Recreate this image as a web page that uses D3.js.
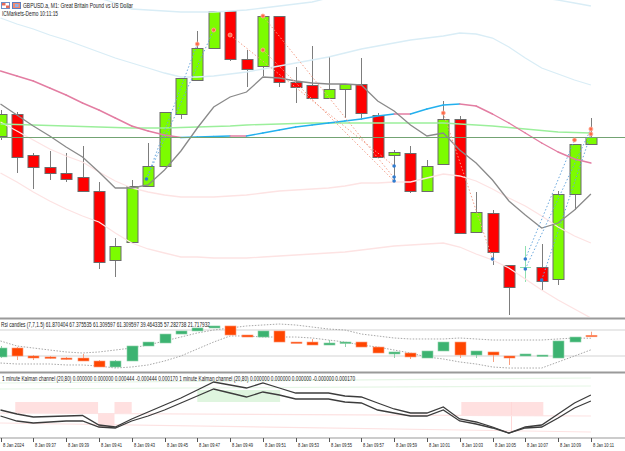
<!DOCTYPE html>
<html>
<head>
<meta charset="utf-8">
<script src="https://cdn.jsdelivr.net/npm/d3@7"></script>
<style>
body { margin: 0; background: #fff; }
svg { display: block; font-family: "Liberation Sans", Arial, sans-serif; }
</style>
</head>
<body>
<svg id="chart" width="625" height="451"></svg>
<script>
// bar times (M1)
var times = ["09:35","09:36","09:37","09:38","09:39","09:40","09:41","09:42","09:43","09:44",
  "09:45","09:46","09:47","09:48","09:49","09:50","09:51","09:52","09:53","09:54",
  "09:55","09:56","09:57","09:58","09:59","10:00","10:01","10:02","10:03","10:04",
  "10:05","10:06","10:07","10:08","10:09","10:10","10:11"];

var open  = [1.27064,1.27086,1.27045,1.27033,1.27027,1.27023,1.27009,1.26940,1.26958,1.27014,
  1.27034,1.27086,1.27120,1.27152,1.27189,1.27141,1.27134,1.27184,1.27118,1.27115,
  1.27102,1.27111,1.27116,1.27085,1.27045,1.27047,1.27009,1.27036,1.27081,1.26968,
  1.26987,1.26935,1.26933,1.26933,1.26921,1.27006,1.27056];
var high  = [1.27090,1.27088,1.27047,1.27049,1.27047,1.27054,1.27018,1.26962,1.27020,1.27057,
  1.27088,1.27122,1.27169,1.27189,1.27189,1.27150,1.27184,1.27184,1.27133,1.27154,
  1.27143,1.27116,1.27142,1.27087,1.27050,1.27054,1.27040,1.27099,1.27084,1.27008,
  1.26990,1.26935,1.26954,1.26956,1.27009,1.27056,1.27082];
var low   = [1.27060,1.27027,1.27011,1.27020,1.27018,1.27009,1.26931,1.26923,1.26958,1.27014,
  1.27034,1.27081,1.27120,1.27152,1.27139,1.27113,1.27124,1.27113,1.27097,1.27102,
  1.27102,1.27082,1.27082,1.27043,1.27018,1.27007,1.27009,1.27036,1.26967,1.26968,
  1.26935,1.26885,1.26918,1.26910,1.26915,1.26990,1.27056];
var close = [1.27086,1.27043,1.27033,1.27027,1.27021,1.27009,1.26938,1.26954,1.27014,1.27034,
  1.27088,1.27122,1.27152,1.27189,1.27141,1.27131,1.27184,1.27118,1.27113,1.27102,
  1.27111,1.27116,1.27087,1.27043,1.27048,1.27009,1.27034,1.27081,1.26967,1.26988,
  1.26948,1.26913,1.26933,1.26919,1.27006,1.27056,1.27063];

var priceLine = 1.27063;

// moving averages and channel bands
var maFast = [1.27096,1.27085,1.27074,1.27064,1.27053,1.27043,1.27028,1.27012,1.27012,1.27015,
  1.27030,1.27049,1.27072,1.27093,1.27103,1.27108,1.27123,1.27122,1.27119,1.27117,
  1.27116,1.27116,1.27115,1.27099,1.27089,1.27075,1.27064,1.27067,1.27050,1.27037,
  1.27020,1.26999,1.26985,1.26972,1.26977,1.26990,1.27006];
var maMid = [1.27129,1.27124,1.27119,1.27112,1.27105,1.27097,1.27090,1.27082,1.27074,1.27069,
  1.27065,1.270625,1.27063,1.270635,1.27064,1.27064,1.27067,1.27070,1.27073,1.27075,
  1.27077,1.27079,1.27081,1.27084,1.27086,1.27086,1.27091,1.27095,1.27096,1.27094,
  1.27086,1.27077,1.27067,1.27057,1.27048,1.27041,1.27037];
var maSlow = [1.27076,1.270755,1.27075,1.270745,1.27074,1.270735,1.27073,1.270725,1.27072,1.27072,
  1.27072,1.270725,1.27073,1.270735,1.27074,1.27075,1.270755,1.27076,1.270765,1.27077,
  1.27077,1.27077,1.27077,1.27077,1.27077,1.27077,1.27077,1.27077,1.27076,1.27075,
  1.27074,1.270725,1.27071,1.270695,1.27068,1.270675,1.27067];
var bandUp1 = [1.27182,1.27176,1.27171,1.27165,1.27160,1.27154,1.27148,1.27142,1.27137,1.27132,
  1.27127,1.27123,1.27123,1.27124,1.27126,1.27128,1.27131,1.27134,1.27137,1.27140,
  1.27143,1.27147,1.27151,1.27154,1.27157,1.27160,1.27162,1.27164,1.27167,1.27166,
  1.27162,1.27153,1.27142,1.27132,1.27126,1.27120,1.27115];
var bandUp2 = [1.27231,1.27225,1.27219,1.27214,1.27210,1.27206,1.27202,1.27197,1.27191,1.27190,
  1.27189,1.27188,1.27188,1.27188,1.27189,1.27190,1.27192,1.27194,1.27196,1.27198,
  1.27202,1.27206,1.27210,1.27214,1.27218,1.27222,1.27225,1.27228,1.27230,1.27228,
  1.27222,1.27215,1.27207,1.27202,1.27200,1.27197,1.27194];
var bandDn1 = [1.27078,1.27069,1.27060,1.27051,1.27044,1.27038,1.27028,1.27019,1.27012,1.27008,
  1.27005,1.27003,1.27003,1.27003,1.27004,1.27005,1.27007,1.27009,1.27010,1.27011,
  1.27012,1.27014,1.27017,1.27017,1.27018,1.27018,1.27022,1.27026,1.27024,1.27019,
  1.27011,1.27002,1.26994,1.26984,1.26973,1.26964,1.26957];
var bandDn2 = [1.27027,1.27018,1.27008,1.26999,1.26991,1.26984,1.26978,1.26967,1.26957,1.26951,
  1.26947,1.26943,1.26943,1.26942,1.26942,1.26942,1.26943,1.26944,1.26945,1.26946,
  1.26947,1.26948,1.26950,1.26952,1.26954,1.26955,1.26956,1.26957,1.26953,1.26946,
  1.26940,1.26932,1.26921,1.26910,1.26900,1.26891,1.26882];

// signal arrows: [bar, price, bar, price]
var buyLines  = [[8.9,1.27021,12,1.27156],[8.9,1.27021,13,1.27170],[32,1.26941,35,1.27060],
  [32,1.26931,36,1.27071],[33,1.26920,36,1.27066]];
var sellLines = [[14,1.27165,24,1.27034],[16,1.27184,24,1.27022],[16,1.27150,24,1.27019],
  [27,1.27087,30,1.26941]];
var redDots  = [[12,1.27156],[13,1.27170],[14,1.27165],[16,1.27184],[16,1.27150],[27,1.27087],
  [35,1.27060],[36,1.27071],[36,1.27066]];
var blueDots = [[8.9,1.27021],[24,1.27034],[24,1.27023],[24,1.27019],[30,1.26941],[32,1.26941],
  [32,1.26931],[33,1.26920]];

// Rsi candles
var rOpen  = [28.5,42.3,30.0,28.5,26.9,26.9,22.3,13.1,22.3,45.4,50.0,63.8,68.5,73.1,76.2,62.3,59.2,68.5,51.5,51.5,
  46.9,50.0,51.5,43.8,33.1,34.6,26.9,37.7,51.5,31.5,36.2,30.0,30.0,30.0,26.9,51.5,61.87];
var rHigh  = [45.4,43.8,31.5,30.0,28.5,33.1,23.8,23.8,45.4,51.5,63.8,68.5,73.1,76.2,76.2,62.3,68.5,68.5,51.5,56.2,
  54.6,51.5,51.5,43.8,36.2,34.6,37.7,51.5,51.5,37.7,36.2,30.0,33.1,31.5,53.1,59.2,67.38];
var rLow   = [26.9,23.8,23.8,25.4,23.8,22.3,13.1,11.5,22.3,45.4,50.0,63.8,68.5,73.1,62.3,59.2,59.2,51.5,50.0,46.9,
  46.9,43.8,43.8,34.6,26.9,25.4,26.9,37.7,26.9,26.9,20.8,16.2,30.0,30.0,26.9,51.5,61.31];
var rClose = [42.3,30.0,26.9,26.9,25.4,22.3,13.1,22.3,45.4,51.5,63.8,68.5,73.1,76.2,62.3,59.2,68.5,51.5,50.0,46.9,
  50.0,51.5,43.8,34.6,36.2,28.5,37.7,51.5,31.5,37.7,31.5,26.9,33.1,31.5,53.1,59.2,61.31];
var rsiUpper = [53.1,45.4,42.3,39.2,36.2,34.6,36.2,39.2,42.3,46.9,53.1,59.2,65.4,70.0,73.1,76.2,77.7,79.2,77.7,74.6,
  71.5,70.0,63.8,60.8,57.7,56.2,56.2,56.2,57.7,56.2,54.6,54.6,54.6,54.6,56.2,57.7,57.28];
var rsiLower = [19.2,17.7,17.7,17.7,16.2,16.2,14.6,11.5,13.1,16.2,22.3,30.0,40.8,51.5,60.8,60.8,59.2,59.2,59.2,57.7,
  54.6,51.5,46.9,43.8,39.2,34.6,28.5,25.4,20.8,17.7,13.1,11.5,11.5,11.5,20.8,30.0,39.46];
var rsiLevels = [70, 30];

// Kalman channel
var kUpper = [-0.00005,-0.00009,-0.00012,-0.000115,-0.00011,-0.000105,-0.00020,-0.00022,-0.00014,-0.00007,
  0.00000,0.00007,0.00015,0.00023,0.00020,0.00017,0.00022,0.00017,0.00012,0.00012,
  0.00012,0.00009,0.00008,0.00002,-0.00004,-0.00008,-0.00008,-0.00002,-0.00014,-0.00017,
  -0.00022,-0.00028,-0.00022,-0.00020,-0.00009,0.00002,0.00010];
var kLower = [-0.00011,-0.00016,-0.00018,-0.00017,-0.00016,-0.00016,-0.00022,-0.00023,-0.00016,-0.00011,
  -0.00005,0.00002,0.00009,0.00016,0.00012,0.00008,0.00013,0.00010,0.00006,0.00006,
  0.00006,0.00003,0.00002,-0.00005,-0.00008,-0.00011,-0.00011,-0.00005,-0.00016,-0.00019,
  -0.00023,-0.00028,-0.00023,-0.00022,-0.00013,-0.00003,0.00004];
var kZoneFrom = [0.9, 5.95, 6.95, 12, 28.1];
var kZoneTo   = [5.95, 6.95, 8.0, 17.05, 33.1];
var kZoneHi   = [0.00003, -0.00008, 0.00003, 0.00015, 0.00003];
var kZoneLo   = [-0.00008, -0.00022, -0.00008, 0.00003, -0.00011];
var kZoneUp   = [false, false, false, true, false];
var kLevelUpOuter = [0.00022, 0.00027];
var kLevelUpInner = [0.00016, 0.00019];
var kLevelDnInner = [-0.00008, -0.00011];
var kLevelDnOuter = [-0.00018, -0.00027];

var axisLabels = ["8 Jan 2024","8 Jan 09:37","8 Jan 09:39","8 Jan 09:41","8 Jan 09:43","8 Jan 09:45",
  "8 Jan 09:47","8 Jan 09:49","8 Jan 09:51","8 Jan 09:53","8 Jan 09:55","8 Jan 09:57","8 Jan 09:59",
  "8 Jan 10:01","8 Jan 10:03","8 Jan 10:05","8 Jan 10:07","8 Jan 10:09","8 Jan 10:11"];

var svg = d3.select("#chart");
var W = 625;

var x = d3.scaleLinear().domain([0, times.length - 1]).range([0.5, 590.9]);
var y = d3.scaleLinear().domain([1.26882, 1.27200]).range([318, 0]);
var yr = d3.scaleLinear().domain([0, 100]).range([375.5, 310.5]);
var yk = d3.scaleLinear().domain([-0.00032, 0.00032]).range([437, 373]);

function px(v) { return Math.round(v) + 0.5; }

var defs = svg.append("defs");
defs.append("clipPath").attr("id", "cMain").append("rect").attr("x", 0).attr("y", 0).attr("width", W).attr("height", 317);
defs.append("clipPath").attr("id", "cRsi").append("rect").attr("x", 0).attr("y", 320).attr("width", W).attr("height", 51);
defs.append("clipPath").attr("id", "cKal").append("rect").attr("x", 0).attr("y", 374).attr("width", W).attr("height", 63);

// ---------- main panel ----------
var main = svg.append("g").attr("clip-path", "url(#cMain)");

var candles = main.append("g");
times.forEach(function(t, i) {
  var cx = px(x(i));
  var isDoji = open[i] == close[i];
  candles.append("line")
    .attr("x1", cx).attr("x2", cx)
    .attr("y1", y(high[i])).attr("y2", y(low[i]))
    .attr("stroke", isDoji ? "#8fe0b0" : "#7d7d7d").attr("stroke-width", 1);
  if (isDoji) {
    candles.append("line")
      .attr("x1", cx - 5.5).attr("x2", cx + 5.5)
      .attr("y1", px(y(open[i]))).attr("y2", px(y(open[i])))
      .attr("stroke", "#8fe0b0");
    return;
  }
  var top = y(Math.max(open[i], close[i])), bot = y(Math.min(open[i], close[i]));
  candles.append("rect")
    .attr("x", cx - 5.5).attr("y", Math.round(top) + 0.5)
    .attr("width", 11).attr("height", Math.max(1, Math.round(bot - top)))
    .attr("fill", close[i] > open[i] ? "#7cfc00" : "#ff0000")
    .attr("stroke", "#6b6b6b").attr("stroke-width", 1);
});

var lineGen = function(arr) {
  return d3.line().x(function(d, i) { return x(i); }).y(function(d) { return y(d); })(arr);
};

var lines = main.append("g").attr("fill", "none");
lines.append("path").attr("d", lineGen(bandUp2)).attr("stroke", "#d9edf6").attr("stroke-width", 1.3);
lines.append("path").attr("d", lineGen(bandUp1)).attr("stroke", "#d9edf6").attr("stroke-width", 1.3);
lines.append("path").attr("d", lineGen(bandDn1)).attr("stroke", "#fde3e3").attr("stroke-width", 1.3);
lines.append("path").attr("d", lineGen(bandDn2)).attr("stroke", "#fde3e3").attr("stroke-width", 1.3);

main.append("line").attr("x1", 0).attr("x2", W)
  .attr("y1", px(y(priceLine))).attr("y2", px(y(priceLine)))
  .attr("stroke", "#73a373").attr("stroke-width", 1);

lines.append("path").attr("d", lineGen(maSlow)).attr("stroke", "#9bef9b").attr("stroke-width", 1.3);

// colour-changing average: blue while rising, pink otherwise
for (var i = 1; i < maMid.length; i++) {
  lines.append("line")
    .attr("x1", x(i - 1)).attr("y1", y(maMid[i - 1]))
    .attr("x2", x(i)).attr("y2", y(maMid[i]))
    .attr("stroke", maMid[i] > maMid[i - 1] ? "#22b0ee" : "#e37da2")
    .attr("stroke-width", 1.4).attr("stroke-linecap", "round");
}

lines.append("path").attr("d", lineGen(maFast)).attr("stroke", "#8a8a8a").attr("stroke-width", 1.3);

var sig = main.append("g");
sellLines.forEach(function(s) {
  sig.append("line").attr("x1", x(s[0])).attr("y1", y(s[1])).attr("x2", x(s[2])).attr("y2", y(s[3]))
    .attr("stroke", "#f4a08a").attr("stroke-width", 1).attr("stroke-dasharray", "1.5,2");
});
buyLines.forEach(function(s) {
  sig.append("line").attr("x1", x(s[0])).attr("y1", y(s[1])).attr("x2", x(s[2])).attr("y2", y(s[3]))
    .attr("stroke", "#6aa8de").attr("stroke-width", 1).attr("stroke-dasharray", "1.5,2");
});
redDots.forEach(function(d) {
  sig.append("circle").attr("cx", x(d[0])).attr("cy", y(d[1])).attr("r", 2)
    .attr("fill", "#ff6a4a").attr("stroke", "#ffb09a").attr("stroke-width", 0.8);
});
blueDots.forEach(function(d) {
  sig.append("circle").attr("cx", x(d[0])).attr("cy", y(d[1])).attr("r", 1.8).attr("fill", "#2f7cd0");
});

// header
var hdr = svg.append("g");
hdr.append("rect").attr("x", 1.5).attr("y", 2.5).attr("width", 8).attr("height", 6).attr("fill", "#fff").attr("stroke", "#6f8fc8");
hdr.append("rect").attr("x", 2).attr("y", 3).attr("width", 3.5).attr("height", 2.5).attr("fill", "#e86a5a");
hdr.append("rect").attr("x", 6).attr("y", 5.5).attr("width", 3.5).attr("height", 2.5).attr("fill", "#e86a5a");
hdr.append("rect").attr("x", 12.5).attr("y", 2.5).attr("width", 8).attr("height", 6).attr("fill", "#f08a70").attr("stroke", "#5f7fc0");
hdr.append("rect").attr("x", 15).attr("y", 4).attr("width", 3.5).attr("height", 3).attr("fill", "#8fb0e8");
hdr.append("text").attr("x", 23).attr("y", 7.5).attr("font-size", 6.3).attr("fill", "#222")
  .attr("textLength", 110).attr("lengthAdjust", "spacingAndGlyphs")
  .text("GBPUSD.a, M1:  Great Britain Pound vs US Dollar");
hdr.append("text").attr("x", 2).attr("y", 15.5).attr("font-size", 6.3).attr("fill", "#222")
  .attr("textLength", 56).attr("lengthAdjust", "spacingAndGlyphs")
  .text("ICMarkets-Demo 10:11:15");

// ---------- Rsi candles panel ----------
var rsi = svg.append("g").attr("clip-path", "url(#cRsi)");
rsiLevels.forEach(function(l) {
  rsi.append("line").attr("x1", 0).attr("x2", W).attr("y1", yr(l)).attr("y2", yr(l))
    .attr("stroke", "#e2e2e2").attr("stroke-width", 1.5);
});
var rLine = function(arr) {
  return d3.line().x(function(d, i) { return x(i); }).y(function(d) { return yr(d); })(arr);
};
rsi.append("path").attr("d", rLine(rsiUpper)).attr("fill", "none").attr("stroke", "#a8a8a8")
  .attr("stroke-width", 1).attr("stroke-dasharray", "1.5,1.5");
rsi.append("path").attr("d", rLine(rsiLower)).attr("fill", "none").attr("stroke", "#a8a8a8")
  .attr("stroke-width", 1).attr("stroke-dasharray", "1.5,1.5");
times.forEach(function(t, i) {
  var cx = px(x(i));
  var up = rClose[i] >= rOpen[i];
  rsi.append("line").attr("x1", cx).attr("x2", cx).attr("y1", yr(rHigh[i])).attr("y2", yr(rLow[i]))
    .attr("stroke", up ? "#8fd2aa" : "#f9a080");
  var top = yr(Math.max(rOpen[i], rClose[i])), bot = yr(Math.min(rOpen[i], rClose[i]));
  rsi.append("rect").attr("x", cx - 5.5).attr("y", top).attr("width", 11).attr("height", Math.max(1.5, bot - top))
    .attr("fill", up ? "#3cb371" : "#ff4500")
    .attr("stroke", up ? "#8fd2aa" : "#fb9a7a").attr("stroke-width", 0.6);
});
svg.append("text").attr("x", 1).attr("y", 326.5).attr("font-size", 6.3).attr("fill", "#222")
  .attr("textLength", 209).attr("lengthAdjust", "spacingAndGlyphs")
  .text("Rsi candles (7,7,1.5) 61.870404 67.375535 61.309597 61.309597 39.464335 57.282738 21.717932");

// ---------- Kalman panel ----------
var kal = svg.append("g").attr("clip-path", "url(#cKal)");
kZoneFrom.forEach(function(f, i) {
  kal.append("rect").attr("x", x(f)).attr("width", x(kZoneTo[i]) - x(f))
    .attr("y", yk(kZoneHi[i])).attr("height", yk(kZoneLo[i]) - yk(kZoneHi[i]))
    .attr("fill", kZoneUp[i] ? "#dff5df" : "#ffe0e0");
});
kal.append("line").attr("x1", px(x(31.1))).attr("x2", px(x(31.1)))
  .attr("y1", yk(0.00003)).attr("y2", yk(-0.00028)).attr("stroke", "#ffd8d8");
[[kLevelUpOuter, "#e6f6e6"], [kLevelUpInner, "#e6f6e6"], [kLevelDnInner, "#fde2e2"], [kLevelDnOuter, "#fde2e2"]]
  .forEach(function(l) {
    kal.append("line").attr("x1", 0).attr("x2", x(36))
      .attr("y1", yk(l[0][0])).attr("y2", yk(l[0][1]))
      .attr("stroke", l[1]).attr("stroke-width", 1.2);
  });
var kLine = function(arr) {
  return d3.line().x(function(d, i) { return x(i); }).y(function(d) { return yk(d); })(arr);
};
kal.append("path").attr("d", kLine(kUpper)).attr("fill", "none").attr("stroke", "#3c3c3c").attr("stroke-width", 1.3);
kal.append("path").attr("d", kLine(kLower)).attr("fill", "none").attr("stroke", "#3c3c3c").attr("stroke-width", 1.3);
svg.append("text").attr("x", 2).attr("y", 380.5).attr("font-size", 6.3).attr("fill", "#222")
  .attr("textLength", 353).attr("lengthAdjust", "spacingAndGlyphs")
  .text("1 minute Kalman channel (20,80) 0.000000 0.000000 0.000444 -0.000444 0.000170 1 minute Kalman channel (20,80) 0.000000 0.000000 0.000000 -0.000000 0.000170");

// ---------- separators ----------
svg.append("rect").attr("x", 0).attr("y", 317.5).attr("width", W).attr("height", 2).attr("fill", "#9a9a9a");
svg.append("rect").attr("x", 0).attr("y", 371.5).attr("width", W).attr("height", 2).attr("fill", "#9a9a9a");
svg.append("rect").attr("x", 0).attr("y", 437.5).attr("width", W).attr("height", 1).attr("fill", "#9a9a9a");

// ---------- time axis ----------
var axis = svg.append("g");
axisLabels.forEach(function(lbl, k) {
  var cx = px(x(k * 2));
  axis.append("line").attr("x1", cx).attr("x2", cx).attr("y1", 438).attr("y2", 442).attr("stroke", "#555");
  axis.append("text").attr("x", cx + 1.5).attr("y", 446.5).attr("font-size", 6).attr("fill", "#222")
    .attr("textLength", 21).attr("lengthAdjust", "spacingAndGlyphs").text(lbl);
});
</script>
</body>
</html>
